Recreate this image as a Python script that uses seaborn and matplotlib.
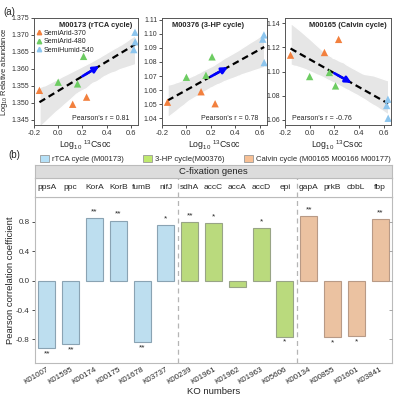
# Figure (a) regressions of module abundance vs 13Csoc, (b) Pearson r of C-fixation genes
import numpy as np
import pandas as pd
import matplotlib.pyplot as plt
import seaborn as sns
from matplotlib.patches import Patch
from matplotlib.lines import Line2D

sns.set_theme(style="ticks")
plt.rcParams["font.family"] = ["Liberation Sans", "DejaVu Sans"]
plt.rcParams["mathtext.fontset"] = "custom"
plt.rcParams["mathtext.rm"] = "Liberation Sans"
plt.rcParams["mathtext.it"] = "Liberation Sans:italic"
plt.rcParams["mathtext.bf"] = "Liberation Sans:bold"
plt.rcParams["axes.unicode_minus"] = False

# --- data panel (a) ---
groups = ["SemiArid-370", "SemiArid-480", "SemiHumid-540"]
group_colors = ["#f2803e", "#6dcc62", "#8cc5ee"]
x_370 = [-0.155, 0.12, 0.235]
x_480 = [0.0, 0.16, 0.21]
x_540 = [0.635, 0.625, 0.637]

m00173_370 = [1.3537, 1.3496, 1.3517]
m00173_480 = [1.3561, 1.3556, 1.3637]
m00173_540 = [1.3708, 1.3657, 1.3680]

m00376_370 = [1.0514, 1.0588, 1.0503]
m00376_480 = [1.0691, 1.0705, 1.0836]
m00376_540 = [1.0992, 1.0962, 1.0795]

m00165_370 = [1.1136, 1.1158, 1.1267]
m00165_480 = [1.0958, 1.0992, 1.0880]
m00165_540 = [1.0769, 1.0717, 1.0611]

panel_titles = ["M00173 (rTCA cycle)", "M00376 (3-HP cycle)", "M00165 (Calvin cycle)"]
panel_r = ["Pearson's r = 0.81", "Pearson's r = 0.78", "Pearson's r = -0.76"]
panel_yticks = [[1.345, 1.350, 1.355, 1.360, 1.365, 1.370, 1.375],
                [1.04, 1.05, 1.06, 1.07, 1.08, 1.09, 1.10, 1.11],
                [1.06, 1.08, 1.10, 1.12, 1.14]]
panel_ylim = [(1.3435, 1.375), (1.0352, 1.1112), (1.0555, 1.1445)]
panel_yfmt = ["{:.3f}", "{:.2f}", "{:.2f}"]
x_ticks = [-0.2, 0.0, 0.2, 0.4, 0.6]

# --- data panel (b) ---
genes = ["ppsA", "ppc", "KorA", "KorB", "fumB", "nifJ",
         "sdhA", "accC", "accA", "accD", "epi",
         "gapA", "prkB", "cbbL", "fbp"]
ko_ids = ["K01007", "K01595", "K00174", "K00175", "K01678", "K03737",
          "K00239", "K01961", "K01962", "K01963", "K05606",
          "K00134", "K00855", "K01601", "K03841"]
r_vals = [-0.92, -0.86, 0.85, 0.82, -0.83, 0.76,
          0.80, 0.78, -0.08, 0.72, -0.76,
          0.88, -0.77, -0.75, 0.84]
stars = ["**", "**", "**", "**", "**", "*",
         "**", "*", "", "*", "*",
         "**", "*", "*", "**"]
cycles = ["rTCA"] * 6 + ["3-HP"] * 5 + ["Calvin"] * 4
cycle_labels = ["rTCA cycle (M00173)", "3-HP cycle(M00376)",
                "Calvin cycle (M00165 M00166 M00177)"]
cycle_colors = {"rTCA": "#b5e0f7", "3-HP": "#bfe96e", "Calvin": "#f7c095"}
cycle_edges = {"rTCA": "#8aa3b3", "3-HP": "#98a486", "Calvin": "#b89a86"}

W, H = 398, 403
fig = plt.figure(figsize=(W / 100, H / 100), dpi=100)


def rect(l, t, r, b):
    return [l / W, 1 - b / H, (r - l) / W, (b - t) / H]


tick_fs = 5.8
top_tick_fs = 5.0
label_fs = 6.3

# ---------- panel (a) ----------
panel_boxes = [(34, 18, 138, 125), (162, 18, 267, 125), (285, 18, 391, 125)]
panel_data = [(m00173_370, m00173_480, m00173_540),
              (m00376_370, m00376_480, m00376_540),
              (m00165_370, m00165_480, m00165_540)]

for i, box in enumerate(panel_boxes):
    ax = fig.add_axes(rect(*box))
    y370, y480, y540 = panel_data[i]
    df = pd.DataFrame({
        "x": x_370 + x_480 + x_540,
        "y": y370 + y480 + y540,
        "group": [groups[0]] * 3 + [groups[1]] * 3 + [groups[2]] * 3,
    })
    sns.regplot(data=df, x="x", y="y", scatter=False, ci=95, n_boot=1000, seed=3,
                color="black", line_kws=dict(ls=(0, (3, 1.8)), lw=1.6), ax=ax)
    for c in ax.collections:
        c.set_facecolor("#e6e6e6")
        c.set_alpha(1)
        c.set_zorder(0)
    sns.scatterplot(data=df, x="x", y="y", hue="group", palette=group_colors,
                    marker="^", s=28, edgecolor="none", legend=False, ax=ax, zorder=3)
    k, b0 = np.polyfit(df["x"], df["y"], 1)
    xa0, xa1 = 0.2, 0.34
    ax.annotate("", xy=(xa1, k * xa1 + b0), xytext=(xa0, k * xa0 + b0),
                arrowprops=dict(arrowstyle="-|>", color="blue", lw=1.9,
                                mutation_scale=9, shrinkA=0, shrinkB=0), zorder=4)

    ax.set_xlim(-0.2, 0.66)
    ax.set_ylim(*panel_ylim[i])
    ax.set_xticks(x_ticks)
    ax.set_xticklabels([f"{v:.1f}" for v in x_ticks], fontsize=top_tick_fs + 0.5)
    ax.set_yticks(panel_yticks[i])
    ax.set_yticklabels([panel_yfmt[i].format(v) for v in panel_yticks[i]],
                       fontsize=top_tick_fs)
    ax.tick_params(length=2.3, width=0.6, pad=1.0, colors="#333333")
    for s in ax.spines.values():
        s.set_visible(True)
        s.set_color("#555555")
        s.set_linewidth(0.7)
    ax.set_xlabel("Log$_{10}$ $^{13}$Csoc", fontsize=label_fs, labelpad=1.5)
    ax.set_ylabel("")

    if i == 0:
        ax.text(0.59, 0.93, panel_titles[i], transform=ax.transAxes, ha="center",
                va="center", fontsize=5.4, fontweight="bold")
        ax.text(0.915, 0.06, panel_r[i], transform=ax.transAxes, ha="right",
                va="center", fontsize=5)
        handles = [Line2D([], [], marker="^", ls="none", color=c, markersize=3.2)
                   for c in group_colors]
        ax.legend(handles, groups, loc="upper left", bbox_to_anchor=(0.02, 0.89),
                  frameon=False, fontsize=5, handlelength=0.8, handletextpad=0.3,
                  labelspacing=0.2, borderpad=0, borderaxespad=0)
        ax.set_ylabel("Log$_{10}$ Relative abundance", fontsize=5.4)
        ax.yaxis.set_label_coords(-0.23, 0.5)
    elif i == 1:
        ax.text(0.095, 0.93, panel_titles[i], transform=ax.transAxes, ha="left",
                va="center", fontsize=5.4, fontweight="bold")
        ax.text(0.915, 0.06, panel_r[i], transform=ax.transAxes, ha="right",
                va="center", fontsize=5)
    else:
        ax.text(0.96, 0.93, panel_titles[i], transform=ax.transAxes, ha="right",
                va="center", fontsize=5.4, fontweight="bold")
        ax.text(0.07, 0.06, panel_r[i], transform=ax.transAxes, ha="left",
                va="center", fontsize=5)

fig.text(3 / W, 1 - 12 / H, "(a)", fontsize=7, va="center")
fig.text(8 / W, 1 - 155 / H, "(b)", fontsize=7, va="center")

# ---------- panel (b) ----------
axb = fig.add_axes(rect(35, 197, 392, 363))
dfb = pd.DataFrame({"ko": ko_ids, "r": r_vals, "cycle": cycles})
sns.barplot(data=dfb, x="ko", y="r", hue="cycle", order=ko_ids,
            palette=cycle_colors, dodge=False, width=0.72, legend=False,
            linewidth=0.8, ax=axb)
for patch in axb.patches:
    cx = patch.get_x() + patch.get_width() / 2
    idx = int(round(cx))
    if 0 <= idx < len(cycles):
        patch.set_edgecolor(cycle_edges[cycles[idx]])

for j, (v, s) in enumerate(zip(r_vals, stars)):
    if not s:
        continue
    if v > 0:
        axb.text(j, v + 0.04, s, ha="center", va="bottom", fontsize=6)
    else:
        axb.text(j, v - 0.03, s, ha="center", va="top", fontsize=6)

for xv in (5.5, 10.5):
    axb.axvline(xv, color="#b5b5b5", lw=0.9, ls=(0, (4, 3)), zorder=0)

axb.set_xlim(-0.5, 14.5)
axb.set_ylim(-1.12, 1.14)
yt = [-0.8, -0.4, 0.0, 0.4, 0.8]
axb.set_yticks(yt)
axb.set_yticklabels([f"{v:.1f}" for v in yt], fontsize=tick_fs)
axb.set_xticks(range(len(ko_ids)))
axb.set_xticklabels(ko_ids, rotation=30, ha="right", rotation_mode="anchor",
                    fontsize=tick_fs)
axb.tick_params(axis="x", length=0, pad=2)
axb.tick_params(axis="y", length=2.5, width=0.6, pad=1.5, colors="#333333")
for s in axb.spines.values():
    s.set_visible(True)
    s.set_color("#bbbbbb")
    s.set_linewidth(0.8)
axb.set_xlabel("KO numbers", fontsize=label_fs + 0.5, labelpad=1)
axb.set_ylabel("Pearson correlation coefficient", fontsize=label_fs + 0.5)
axb.yaxis.set_label_coords(-0.055, 0.5)

axr = axb.twinx()
axr.set_ylim(axb.get_ylim())
axr.set_yticks(yt)
axr.tick_params(axis="y", direction="in", length=2.5, width=0.6,
                labelright=False, colors="#999999")
axr.grid(False)
for s in axr.spines.values():
    s.set_visible(False)

# gene label strip and header strip
axg = fig.add_axes(rect(35, 178, 392, 197))
axg.set_xlim(-0.5, 14.5)
axg.set_ylim(0, 1)
axg.set_facecolor("white")
for j, g in enumerate(genes):
    axg.text(j, 0.5, g, ha="center", va="center", fontsize=6)
for xv in (5.5, 10.5):
    axg.axvline(xv, color="#b5b5b5", lw=0.9, ls=(0, (4, 3)))
axg.set_xticks([])
axg.set_yticks([])
for s in axg.spines.values():
    s.set_color("#bbbbbb")
    s.set_linewidth(0.8)

axh = fig.add_axes(rect(35, 165, 392, 178))
axh.set_facecolor("#dcdcdc")
axh.text(0.5, 0.5, "C-fixation genes", ha="center", va="center",
         fontsize=6.8, transform=axh.transAxes)
axh.set_xticks([])
axh.set_yticks([])
for s in axh.spines.values():
    s.set_color("#bbbbbb")
    s.set_linewidth(0.8)

leg_handles = [Patch(facecolor=cycle_colors[c], edgecolor="#999999", linewidth=0.6)
               for c in ["rTCA", "3-HP", "Calvin"]]
fig.legend(leg_handles, cycle_labels, loc="center left",
           bbox_to_anchor=(40 / W, 1 - 159 / H), ncol=3, frameon=False,
           fontsize=5.5, handlelength=1.2, handleheight=1.1, handletextpad=0.4,
           columnspacing=2.5, borderpad=0, borderaxespad=0)

fig.savefig("out.png", dpi=100)
